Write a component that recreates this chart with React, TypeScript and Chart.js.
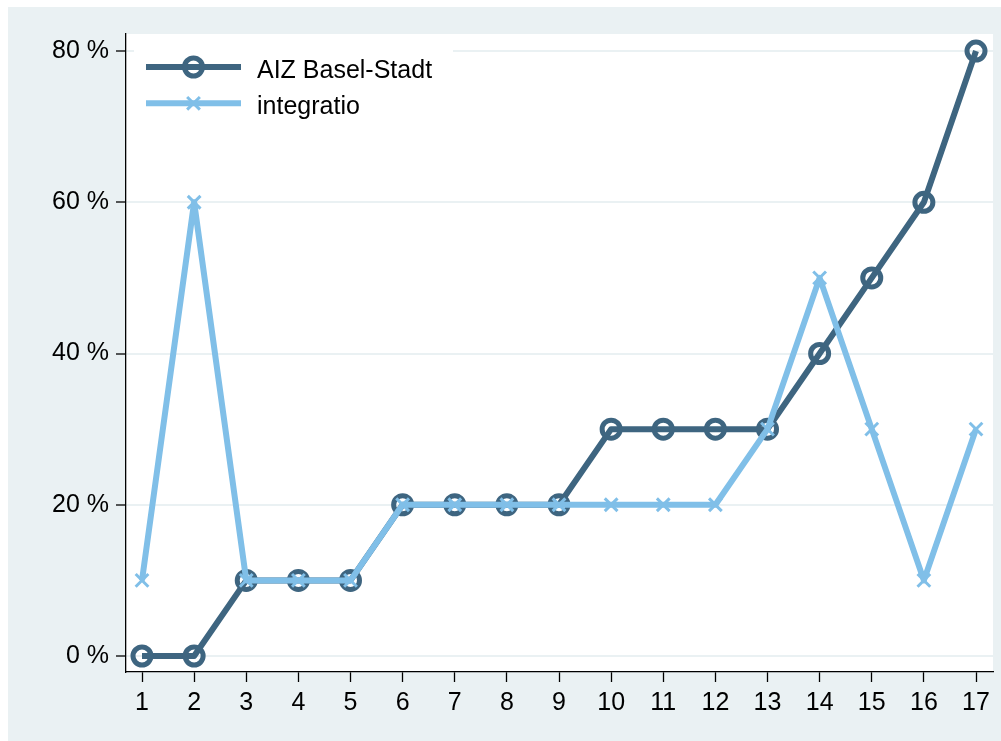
import React, { useEffect, useRef } from "react";
import { Chart, registerables } from "chart.js";

Chart.register(...registerables);

const categories = [1, 2, 3, 4, 5, 6, 7, 8, 9, 10, 11, 12, 13, 14, 15, 16, 17];
const aizValues = [0, 0, 10, 10, 10, 20, 20, 20, 20, 30, 30, 30, 30, 40, 50, 60, 80];
const integratioValues = [10, 60, 10, 10, 10, 20, 20, 20, 20, 20, 20, 20, 30, 50, 30, 10, 30];
const yTickValues = [0, 20, 40, 60, 80];
const seriesNames = ["AIZ Basel-Stadt", "integratio"];

const DARK = "#3E6580";
const LIGHT = "#80BFE8";
const BG = "#EAF1F3";
const FONT = "'Liberation Sans', Arial, sans-serif";

const W = 993;
const H = 734;

const bgPlugin = {
  id: "plotBg",
  beforeDraw(chart: any) {
    const { ctx, chartArea } = chart;
    ctx.save();
    ctx.fillStyle = BG;
    ctx.fillRect(0, 0, chart.width, chart.height);
    ctx.fillStyle = "#FFFFFF";
    ctx.fillRect(chartArea.left, chartArea.top, chartArea.right - chartArea.left, chartArea.bottom - chartArea.top);
    ctx.restore();
  },
};

const legendPlugin = {
  id: "insideLegend",
  afterDraw(chart: any) {
    const { ctx, chartArea } = chart;
    const left = chartArea.left + 8;
    ctx.save();
    ctx.fillStyle = "#FFFFFF";
    ctx.fillRect(left, chartArea.top + 6, 319, 86);
    const rows = [
      { name: seriesNames[0], color: DARK, marker: "circle", lineY: 60, textY: 70.5 },
      { name: seriesNames[1], color: LIGHT, marker: "cross", lineY: 96.3, textY: 106.5 },
    ];
    const x0 = chartArea.left + 20;
    const x1 = x0 + 95;
    const mx = (x0 + x1) / 2;
    for (const r of rows) {
      ctx.strokeStyle = r.color;
      ctx.lineWidth = 6;
      ctx.lineCap = "butt";
      ctx.beginPath();
      ctx.moveTo(x0, r.lineY);
      ctx.lineTo(x1, r.lineY);
      ctx.stroke();
      if (r.marker === "circle") {
        ctx.lineWidth = 5;
        ctx.beginPath();
        ctx.arc(mx, r.lineY, 9, 0, Math.PI * 2);
        ctx.stroke();
      } else {
        ctx.lineWidth = 3;
        const d = 9 * Math.SQRT1_2;
        ctx.beginPath();
        ctx.moveTo(mx - d, r.lineY - d);
        ctx.lineTo(mx + d, r.lineY + d);
        ctx.moveTo(mx - d, r.lineY + d);
        ctx.lineTo(mx + d, r.lineY - d);
        ctx.stroke();
      }
      ctx.fillStyle = "#000000";
      ctx.font = `25px ${FONT}`;
      ctx.textAlign = "left";
      ctx.textBaseline = "alphabetic";
      ctx.fillText(r.name, x1 + 16, r.textY);
    }
    ctx.restore();
  },
};

export default function App() {
  const ref = useRef<HTMLCanvasElement | null>(null);

  useEffect(() => {
    if (!ref.current) return;
    const chart = new Chart(ref.current, {
      type: "line",
      data: {
        datasets: [
          {
            label: seriesNames[0],
            data: categories.map((c, i) => ({ x: c, y: aizValues[i] })),
            borderColor: DARK,
            borderWidth: 6,
            backgroundColor: "transparent",
            pointStyle: "circle",
            pointRadius: 9,
            pointBorderWidth: 5,
            pointBorderColor: DARK,
            pointBackgroundColor: "transparent",
            borderJoinStyle: "round",
            tension: 0,
            clip: false,
            order: 2,
          },
          {
            label: seriesNames[1],
            data: categories.map((c, i) => ({ x: c, y: integratioValues[i] })),
            borderColor: LIGHT,
            borderWidth: 6,
            backgroundColor: "transparent",
            pointStyle: "crossRot",
            pointRadius: 9,
            pointBorderWidth: 3,
            pointBorderColor: LIGHT,
            pointBackgroundColor: LIGHT,
            borderJoinStyle: "round",
            tension: 0,
            clip: false,
            order: 1,
          },
        ],
      },
      options: {
        responsive: false,
        animation: false,
        devicePixelRatio: 1,
        layout: { autoPadding: false, padding: { left: 0, top: 27, right: 8, bottom: 0 } },
        plugins: {
          legend: { display: false },
          tooltip: { enabled: false },
        },
        scales: {
          x: {
            type: "linear",
            min: 0.693,
            max: 17.326,
            afterBuildTicks: (scale: any) => {
              scale.ticks = categories.map((v) => ({ value: v }));
            },
            afterFit: (scale: any) => {
              scale.height = 69;
              scale.paddingLeft = 0;
              scale.paddingRight = 0;
            },
            grid: {
              display: true,
              drawOnChartArea: false,
              drawTicks: true,
              tickLength: 10,
              tickColor: "#000000",
              tickWidth: 1.3,
            },
            border: { display: true, color: "#000000", width: 1.3 },
            ticks: {
              autoSkip: false,
              maxRotation: 0,
              padding: 6,
              color: "#000000",
              font: { family: FONT, size: 25 },
              callback: (v: any) => String(v),
            },
          },
          y: {
            type: "linear",
            min: -2.116,
            max: 82.25,
            afterBuildTicks: (scale: any) => {
              scale.ticks = yTickValues.map((v) => ({ value: v }));
            },
            afterFit: (scale: any) => {
              scale.width = 118;
              scale.paddingTop = 0;
              scale.paddingBottom = 0;
            },
            grid: {
              display: true,
              color: BG,
              lineWidth: 2,
              drawTicks: true,
              tickLength: 10,
              tickColor: "#000000",
              tickWidth: 1.3,
            },
            border: { display: true, color: "#000000", width: 1.3 },
            ticks: {
              padding: 7,
              color: "#000000",
              font: { family: FONT, size: 25 },
              callback: (v: any) => `${v} %`,
            },
          },
        },
      },
      plugins: [bgPlugin, legendPlugin],
    } as any);
    return () => chart.destroy();
  }, []);

  return (
    <div style={{ position: "fixed", left: 8, top: 7, width: W, height: H }}>
      <canvas ref={ref} width={W} height={H} style={{ display: "block", width: W, height: H }} />
    </div>
  );
}
